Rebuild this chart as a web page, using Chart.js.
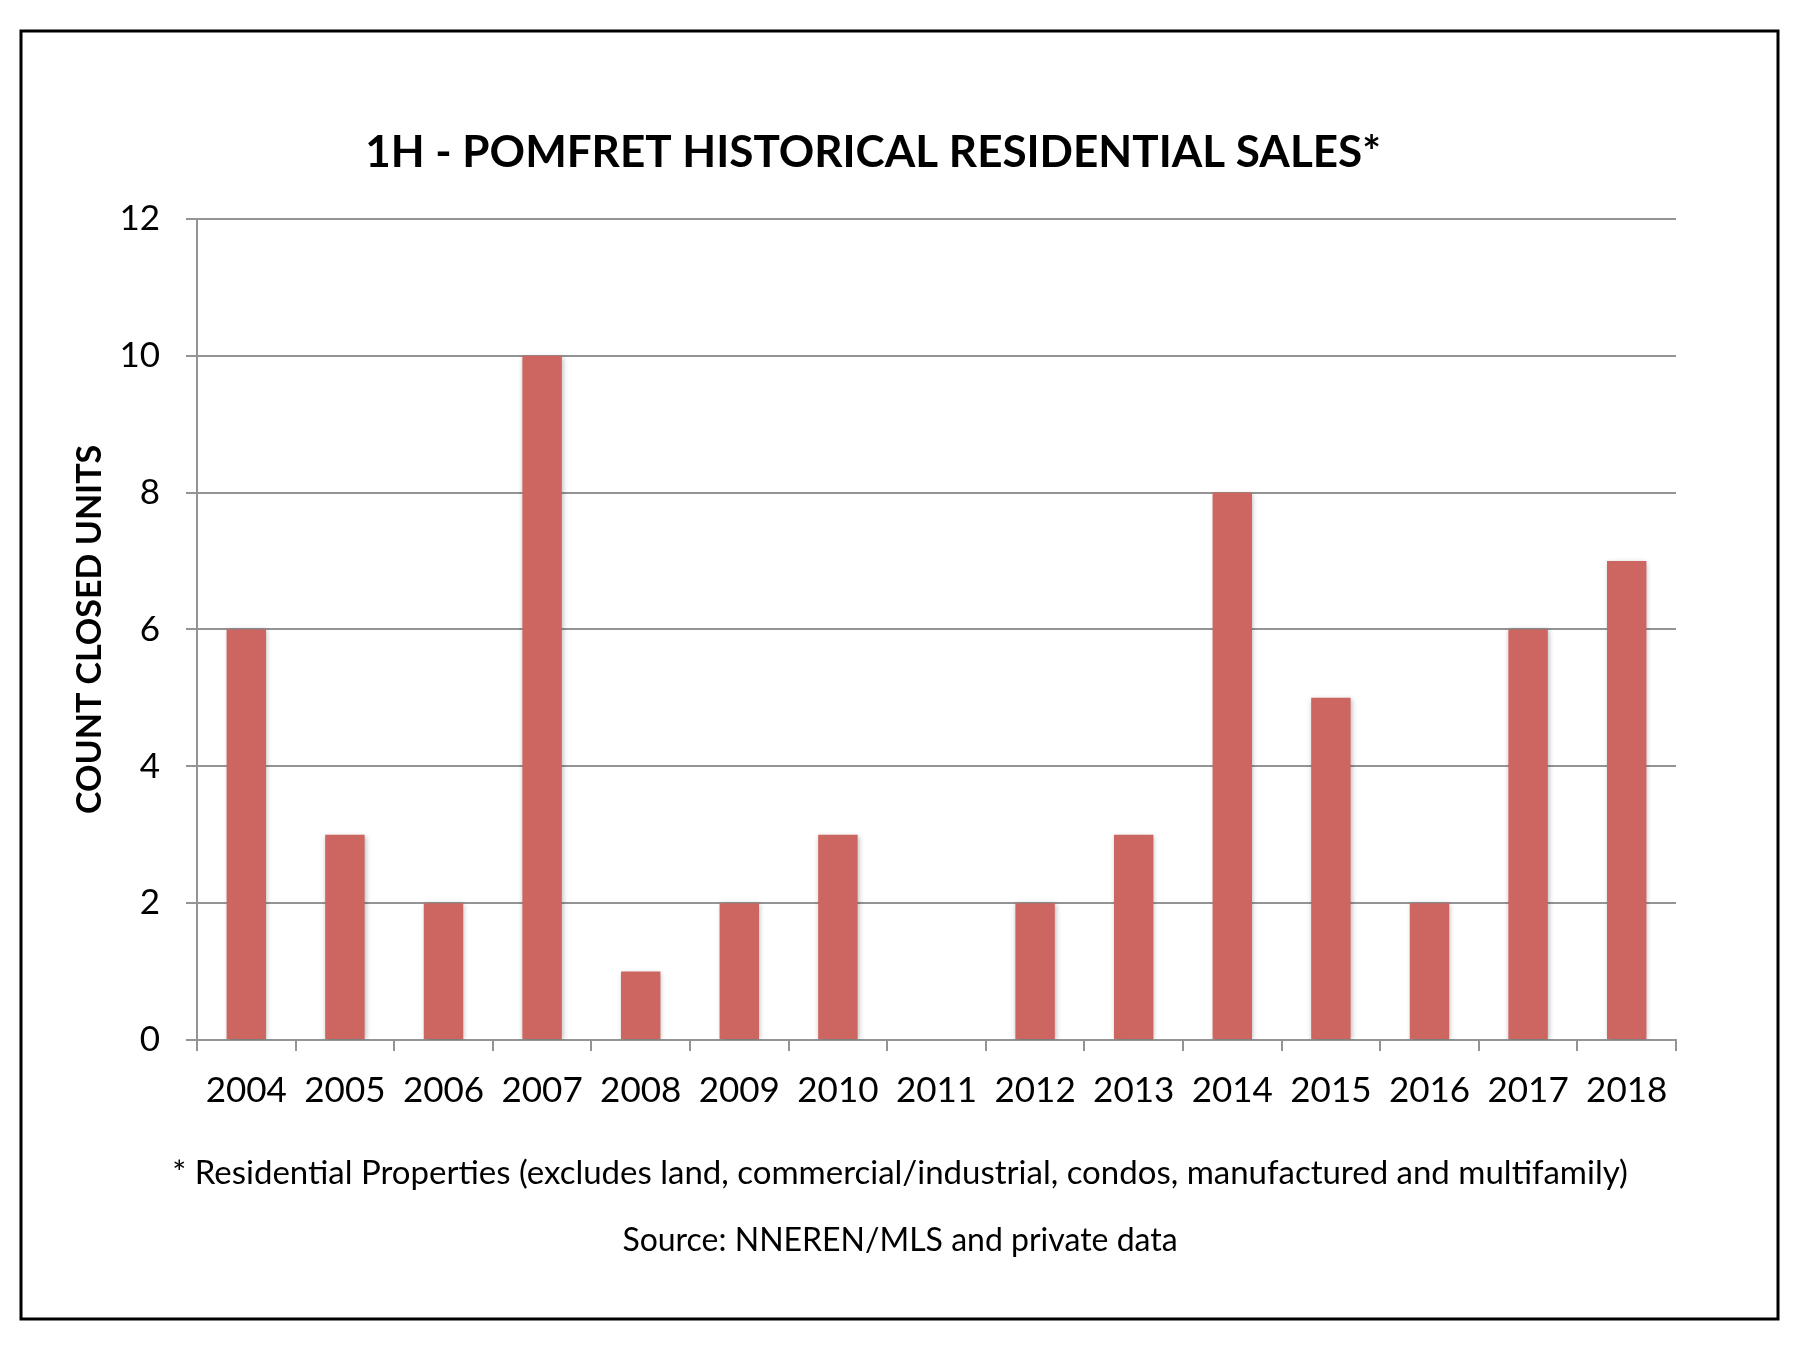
<!DOCTYPE html>
<html>
<head>
<meta charset="utf-8">
<title>1H - Pomfret Historical Residential Sales</title>
<script src="https://cdn.jsdelivr.net/npm/chart.js@4.4.1/dist/chart.umd.min.js"></script>
<style>
  html, body { margin: 0; padding: 0; background: #fff; }
  #salesChart { display: block; }
</style>
</head>
<body>
<canvas id="salesChart" width="1800" height="1350"></canvas>
<script>
    // Data
    const years = ['2004', '2005', '2006', '2007', '2008', '2009', '2010', '2011', '2012', '2013', '2014', '2015', '2016', '2017', '2018'];
    const closedUnits = [6, 3, 2, 10, 1, 2, 3, 0, 2, 3, 8, 5, 2, 6, 7];
    const footnotes = [
        '* Residential Properties (excludes land, commercial/industrial, condos, manufactured and multifamily)',
        'Source: NNEREN/MLS and private data'
    ];

    const fontFamily = 'Lato, "Open Sans", sans-serif';
    const gridGray = '#949494';

    // white page, black frame and the two footnote lines
    const framePlugin = {
        id: 'frame',
        beforeDraw(chart) {
            const c = chart.ctx;
            c.save();
            c.fillStyle = '#fff';
            c.fillRect(0, 0, chart.width, chart.height);
            c.restore();
        },
        afterDraw(chart) {
            const c = chart.ctx;
            c.save();
            c.strokeStyle = '#000';
            c.lineWidth = 3;
            c.strokeRect(21, 31, 1757, 1288);

            c.fillStyle = '#000';
            c.textAlign = 'center';
            c.textBaseline = 'middle';
            c.font = '33px ' + fontFamily;
            c.fillText(footnotes[0], 900, 1173);
            c.font = '32px ' + fontFamily;
            c.fillText(footnotes[1], 900, 1241);
            c.restore();
        }
    };

    // soft Excel-like shadow behind the bars
    const shadowPlugin = {
        id: 'barShadow',
        beforeDatasetsDraw(chart) {
            const c = chart.ctx;
            c.save();
            c.shadowColor = 'rgba(0, 0, 0, 0.28)';
            c.shadowBlur = 5;
            c.shadowOffsetX = 1;
            c.shadowOffsetY = 1;
        },
        afterDatasetsDraw(chart) {
            chart.ctx.restore();
        }
    };

    const ctx = document.getElementById('salesChart').getContext('2d');
    const salesChart = new Chart(ctx, {
        type: 'bar',
        data: {
            labels: years,
            datasets: [{
                label: 'Count Closed Units',
                data: closedUnits,
                backgroundColor: '#cd6560',
                borderWidth: 0,
                categoryPercentage: 1.0,
                barPercentage: 0.4
            }]
        },
        options: {
            responsive: false,
            animation: false,
            devicePixelRatio: 1,
            layout: {
                padding: { left: 70, right: 124, top: 0, bottom: 219 }
            },
            plugins: {
                legend: { display: false },
                tooltip: { enabled: false },
                title: {
                    display: true,
                    text: '1H - POMFRET HISTORICAL RESIDENTIAL SALES*',
                    color: '#000',
                    font: { family: fontFamily, size: 44, weight: 'bold' },
                    padding: { top: 126, bottom: 40 }
                }
            },
            scales: {
                x: {
                    grid: {
                        offset: true,
                        drawOnChartArea: false,
                        drawTicks: true,
                        tickLength: 11,
                        color: gridGray,
                        lineWidth: 2
                    },
                    border: { color: gridGray, width: 2 },
                    ticks: {
                        color: '#000',
                        padding: 19,
                        maxRotation: 0,
                        font: { family: fontFamily, size: 35 }
                    }
                },
                y: {
                    min: 0,
                    max: 12,
                    afterFit(scale) {
                        scale.width = 127;
                    },
                    grid: {
                        color: gridGray,
                        lineWidth: 2,
                        tickLength: 11
                    },
                    border: { color: gridGray, width: 2 },
                    ticks: {
                        stepSize: 2,
                        color: '#000',
                        padding: 26,
                        font: { family: fontFamily, size: 35 }
                    },
                    title: {
                        display: true,
                        text: 'COUNT CLOSED UNITS',
                        color: '#000',
                        padding: 0,
                        font: { family: fontFamily, size: 34, weight: 'bold' }
                    }
                }
            }
        },
        plugins: [framePlugin, shadowPlugin]
    });
</script>
</body>
</html>
